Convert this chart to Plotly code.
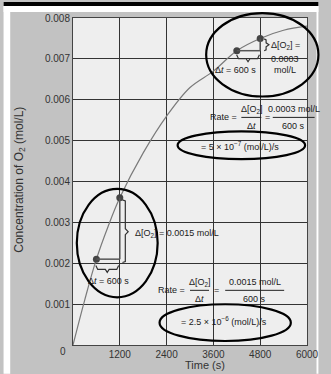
import plotly.graph_objects as go

# ---- data ----
time_s = [0, 300, 600, 900, 1200, 1800, 2400, 3000, 3600, 4200, 4800, 5400, 6000]
conc_o2 = [0.0, 0.0011, 0.0021, 0.0029, 0.0036, 0.0047, 0.0056, 0.0063, 0.0067,
           0.0072, 0.0075, 0.0077, 0.0078]
marked_t = [600, 1200, 4200, 4800]
marked_c = [0.0021, 0.0036, 0.0072, 0.0075]
x_ticks = [1200, 2400, 3600, 4800, 6000]
x_tick_labels = ["1200", "2400", "3600", "4800", "6000"]
y_ticks = [0.001, 0.002, 0.003, 0.004, 0.005, 0.006, 0.007, 0.008]
y_tick_labels = ["0.001", "0.002", "0.003", "0.004", "0.005", "0.006", "0.007", "0.008"]

W, H = 331, 374
L, R, T, B = 73, 319, 16, 345  # plot area in pixels


def PX(x):
    return (x - L) / (R - L)


def PY(y):
    return (B - y) / (B - T)


FONT = "Liberation Sans, Arial, sans-serif"
TXT = "#1a1a1a"

fig = go.Figure()
fig.add_trace(go.Scatter(x=time_s, y=conc_o2, mode="lines", line_shape="spline",
                         line=dict(color="#7a7a7a", width=1.2), hoverinfo="skip"))

shapes = []
ann = []

# page decoration
shapes.append(dict(type="rect", xref="paper", yref="paper", x0=PX(0), x1=PX(W), y0=PY(0), y1=PY(10),
                   fillcolor="white", line_width=0, layer="below"))
shapes.append(dict(type="rect", xref="paper", yref="paper", x0=PX(0), x1=PX(7), y0=PY(0), y1=PY(H),
                   fillcolor="white", line_width=0, layer="below"))
shapes.append(dict(type="rect", xref="paper", yref="paper", x0=PX(329), x1=PX(W), y0=PY(0), y1=PY(H),
                   fillcolor="white", line_width=0, layer="below"))
shapes.append(dict(type="rect", xref="paper", yref="paper", x0=PX(0), x1=PX(W), y0=PY(0), y1=PY(4),
                   fillcolor="black", line_width=0))

TRI = dict(color="#555555", width=1.5)
# lower triangle (from data points)
shapes.append(dict(type="line", x0=marked_t[0], y0=marked_c[0], x1=marked_t[1], y1=marked_c[0], line=TRI))
shapes.append(dict(type="line", x0=marked_t[1], y0=marked_c[0], x1=marked_t[1], y1=marked_c[1], line=TRI))
# upper triangle
shapes.append(dict(type="line", x0=marked_t[2], y0=marked_c[2], x1=marked_t[3], y1=marked_c[2], line=TRI))
shapes.append(dict(type="line", x0=marked_t[3], y0=marked_c[2], x1=marked_t[3], y1=marked_c[3], line=TRI))


def path_px(points):
    return "M " + " L ".join(f"{PX(x):.5f},{PY(y):.5f}" for x, y in points)


BR = dict(color="#333333", width=1.2)
# lower vertical bracket
shapes.append(dict(type="path", xref="paper", yref="paper",
                   path=path_px([(125, 199), (128, 200), (128, 228), (131, 231), (128, 234), (128, 261), (125, 262)]),
                   line=BR))
# lower horizontal brace
shapes.append(dict(type="path", xref="paper", yref="paper",
                   path=path_px([(97, 265), (99, 269), (107, 269), (109, 272), (111, 269), (119, 269), (121, 265)]),
                   line=BR))
# upper vertical brace
shapes.append(dict(type="path", xref="paper", yref="paper",
                   path=path_px([(274, 37), (276, 38), (276, 41), (279, 43), (276, 45), (276, 48), (274, 49)]),
                   line=BR))
# upper horizontal brace
shapes.append(dict(type="path", xref="paper", yref="paper",
                   path=path_px([(245, 53), (247, 57), (255, 57), (257, 60), (259, 57), (267, 57), (269, 53)]),
                   line=BR))

ELL = dict(color="black", width=2.2)
shapes.append(dict(type="circle", xref="paper", yref="paper", x0=PX(77), x1=PX(162), y0=PY(297), y1=PY(188), line=ELL))
shapes.append(dict(type="circle", xref="paper", yref="paper", x0=PX(164), x1=PX(302), y0=PY(341), y1=PY(304), line=ELL))
shapes.append(dict(type="circle", xref="paper", yref="paper", x0=PX(213), x1=PX(331), y0=PY(95), y1=PY(11), line=ELL))
shapes.append(dict(type="circle", xref="paper", yref="paper", x0=PX(183), x1=PX(317), y0=PY(158), y1=PY(130), line=ELL))

# fraction bars
FR = dict(color="#222222", width=1)
for x0, x1, y in [(196, 216, 290), (233, 295, 290), (250, 271, 116), (283, 327, 116)]:
    shapes.append(dict(type="line", xref="paper", yref="paper", x0=PX(x0), x1=PX(x1), y0=PY(y), y1=PY(y), line=FR))


def text(x, y, s, anchor="center", size=9, color=TXT, angle=0):
    ann.append(dict(x=PX(x), y=PY(y), xref="paper", yref="paper", text=s, showarrow=False,
                    xanchor=anchor, yanchor="middle", textangle=angle,
                    font=dict(family=FONT, size=size, color=color)))


# lower annotations
text(110, 281, "Δ<i>t</i> = 600 s")
text(136, 233, "Δ[O<sub>2</sub>] = 0.0015 mol/L", anchor="left")
text(193, 290, "Rate =", anchor="right")
text(206, 282, "Δ[O<sub>2</sub>]")
text(206, 299, "Δ<i>t</i>")
text(224, 290, "=")
text(264, 282, "0.0015 mol/L")
text(264, 299, "600 s")
text(232, 321, "= 2.5 × 10<sup>−6</sup> (mol/L)/s")
# upper annotations
text(244, 68, "Δ<i>t</i> = 600 s")
text(279, 44, "Δ[O<sub>2</sub>] =", anchor="left")
text(296, 57, "0.0003")
text(296, 68, "mol/L")
text(248, 116, "Rate =", anchor="right")
text(261, 108, "Δ[O<sub>2</sub>]")
text(261, 125, "Δ<i>t</i>")
text(277, 116, "=")
text(305, 108, "0.0003 mol/L")
text(305, 125, "600 s")
text(249, 145, "= 5 × 10<sup>−7</sup> (mol/L)/s")

# origin label and axis titles
text(62, 352, "0", size=10, color="#333333")
text(212, 365, "Time (s)", size=11, color="#333333")
text(17, 179, "Concentration of O<sub>2</sub> (mol/L)", size=12, color="#333333", angle=-90)

fig.add_trace(go.Scatter(x=marked_t, y=marked_c, mode="markers",
                         marker=dict(color="#444444", size=7), hoverinfo="skip"))

fig.update_layout(
    width=W, height=H,
    margin=dict(l=L, r=W - R, t=T, b=H - B, pad=0),
    paper_bgcolor="#c2c2c2", plot_bgcolor="#eeeeee",
    showlegend=False,
    shapes=shapes, annotations=ann,
    font=dict(family=FONT, size=10, color="#333333"),
)
fig.update_xaxes(range=[0, 6000], tickvals=x_ticks, ticktext=x_tick_labels,
                 showgrid=True, gridcolor="#333333", gridwidth=1,
                 showline=True, linecolor="#444444", linewidth=1, mirror=True,
                 zeroline=False, ticks="", tickfont=dict(size=10, color="#333333"),
                 fixedrange=True)
fig.update_yaxes(range=[0, 0.008], tickvals=y_ticks, ticktext=y_tick_labels,
                 showgrid=True, gridcolor="#333333", gridwidth=1,
                 showline=True, linecolor="#444444", linewidth=1, mirror=True,
                 zeroline=False, ticks="", tickfont=dict(size=10, color="#333333"),
                 fixedrange=True)

fig.write_html("out.html", config={"displayModeBar": False},
               post_script="document.body.style.margin='0';document.body.style.padding='0';")
